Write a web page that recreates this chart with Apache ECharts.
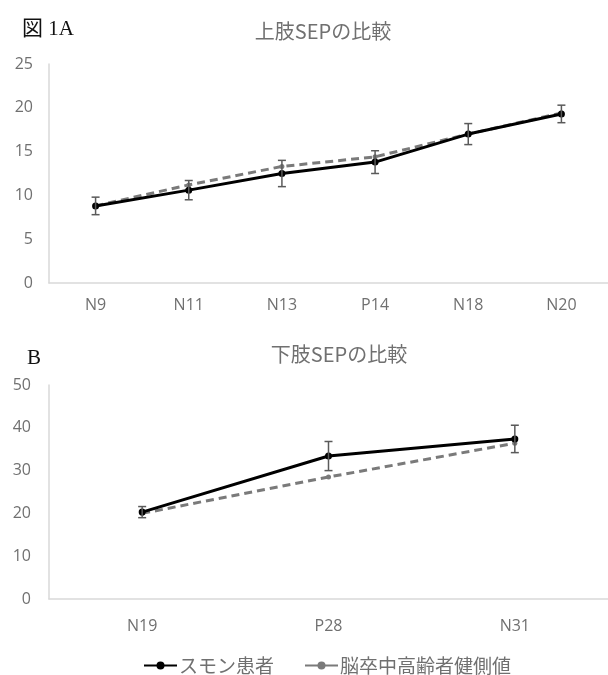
<!DOCTYPE html>
<html>
<head>
<meta charset="utf-8">
<script src="https://cdn.jsdelivr.net/npm/echarts@6/dist/echarts.min.js"></script>
<style>
html,body{margin:0;padding:0;background:#fff;}
#c{width:608px;height:675px;}
</style>
</head>
<body>
<div id="c"></div>
<script>
// ---- Data ----
const catsA = ['N9', 'N11', 'N13', 'P14', 'N18', 'N20'];
const patientA = [8.8, 10.6, 12.5, 13.8, 17.0, 19.3];
const healthyA = [8.8, 11.2, 13.3, 14.4, 17.0, 19.4];
const patientErrA = [1.0, 1.1, 1.5, 1.3, 1.2, 1.0];

const catsB = ['N19', 'P28', 'N31'];
const patientB = [20.3, 33.4, 37.4];
const healthyB = [20.0, 28.5, 36.4];
const patientErrB = [1.3, 3.4, 3.2];

const seriesNames = ['スモン患者', '脳卒中高齢者健側値'];
const titleA = '上肢SEPの比較';
const titleB = '下肢SEPの比較';

// ---- Build ----
function errData(vals, errs) {
  return vals.map((v, i) => [i, v - errs[i], v + errs[i]]);
}
function errRender(params, api) {
  const x = api.value(0);
  const lo = api.coord([x, api.value(1)]);
  const hi = api.coord([x, api.value(2)]);
  const w = 4;
  const style = { stroke: '#5a5a5a', lineWidth: 1.5 };
  return {
    type: 'group',
    children: [
      { type: 'line', shape: { x1: hi[0], y1: hi[1], x2: lo[0], y2: lo[1] }, style },
      { type: 'line', shape: { x1: hi[0] - w, y1: hi[1], x2: hi[0] + w, y2: hi[1] }, style },
      { type: 'line', shape: { x1: lo[0] - w, y1: lo[1], x2: lo[0] + w, y2: lo[1] }, style }
    ]
  };
}

const axisLabel = { color: '#707070', fontSize: 16, fontFamily: 'Open Sans, sans-serif' };
const axisLine = { show: true, lineStyle: { color: '#d9d9d9', width: 1.5 } };

const blackStyle = { color: '#000', width: 3 };
const grayStyle = { color: '#7a7a7a', width: 3, type: [8, 5] };

const option = {
  animation: false,
  backgroundColor: '#fff',
  title: [
    { text: '図 1A', left: 17, top: 14, textStyle: { color: '#111', fontSize: 21, fontWeight: 'normal', fontFamily: 'Liberation Serif, Noto Sans CJK JP, serif' } },
    { text: titleA, left: 318, top: 16, textAlign: 'center', textStyle: { color: '#707070', fontSize: 20, fontWeight: 'normal', fontFamily: 'Noto Sans CJK JP, sans-serif' } },
    { text: 'B', left: 22, top: 343, textStyle: { color: '#111', fontSize: 21, fontWeight: 'normal', fontFamily: 'Liberation Serif, serif' } },
    { text: titleB, left: 334, top: 339, textAlign: 'center', textStyle: { color: '#707070', fontSize: 20, fontWeight: 'normal', fontFamily: 'Noto Sans CJK JP, sans-serif' } }
  ],
  legend: {
    top: 651,
    left: 138,
    itemWidth: 33,
    itemHeight: 10,
    itemGap: 30,
    data: [
      { name: seriesNames[0] },
      { name: seriesNames[1], lineStyle: { type: 'solid', width: 2, color: '#7a7a7a' } }
    ],
    textStyle: { color: '#707070', fontSize: 19, padding: [0, 0, 0, -3], fontFamily: 'Noto Sans CJK JP, sans-serif' }
  },
  grid: [
    { left: 49, right: -11, top: 64, height: 219 },
    { left: 49, right: -26, top: 385, height: 214 }
  ],
  xAxis: [
    { type: 'category', gridIndex: 0, data: catsA, boundaryGap: true, axisLine, axisTick: { show: false }, axisLabel: Object.assign({ margin: 14 }, axisLabel) },
    { type: 'category', gridIndex: 1, data: catsB, boundaryGap: true, axisLine, axisTick: { show: false }, axisLabel: Object.assign({ margin: 19 }, axisLabel) }
  ],
  yAxis: [
    { type: 'value', gridIndex: 0, min: 0, max: 25, interval: 5, axisLine, splitLine: { show: false }, axisTick: { show: false }, axisLabel: Object.assign({ margin: 16 }, axisLabel) },
    { type: 'value', gridIndex: 1, min: 0, max: 50, interval: 10, axisLine, splitLine: { show: false }, axisTick: { show: false }, axisLabel: Object.assign({ margin: 18 }, axisLabel) }
  ],
  series: [
    { name: seriesNames[1], type: 'line', xAxisIndex: 0, yAxisIndex: 0, data: healthyA, lineStyle: grayStyle, itemStyle: { color: '#7a7a7a' }, symbol: 'circle', symbolSize: 5, z: 2 },
    { name: seriesNames[0], type: 'line', xAxisIndex: 0, yAxisIndex: 0, data: patientA, lineStyle: blackStyle, itemStyle: { color: '#000' }, symbol: 'circle', symbolSize: 7, z: 3 },
    { type: 'custom', xAxisIndex: 0, yAxisIndex: 0, data: errData(patientA, patientErrA), renderItem: errRender, encode: { x: 0, y: [1, 2] }, z: 4 },
    { name: seriesNames[1], type: 'line', xAxisIndex: 1, yAxisIndex: 1, data: healthyB, lineStyle: grayStyle, itemStyle: { color: '#7a7a7a' }, symbol: 'circle', symbolSize: 5, z: 2 },
    { name: seriesNames[0], type: 'line', xAxisIndex: 1, yAxisIndex: 1, data: patientB, lineStyle: blackStyle, itemStyle: { color: '#000' }, symbol: 'circle', symbolSize: 7, z: 3 },
    { type: 'custom', xAxisIndex: 1, yAxisIndex: 1, data: errData(patientB, patientErrB), renderItem: errRender, encode: { x: 0, y: [1, 2] }, z: 4 }
  ]
};

const chart = echarts.init(document.getElementById('c'), null, { renderer: 'canvas' });
chart.setOption(option);
</script>
</body>
</html>
